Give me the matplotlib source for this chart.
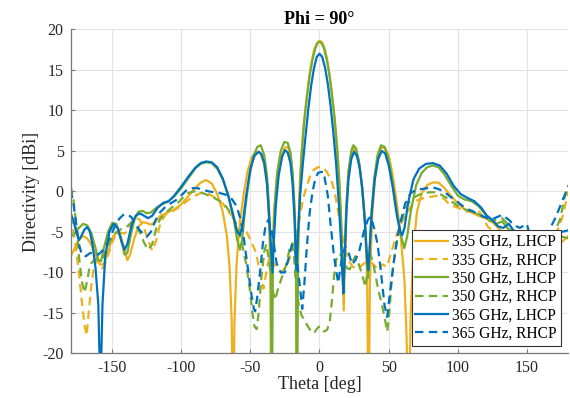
import matplotlib
matplotlib.use("Agg")
import matplotlib.pyplot as plt

# ---------------- data ----------------
theta_335_lhcp = [-180, -177, -174, -171, -168, -165, -162, -159, -156, -153, -150, -147, -144, -141, -139, -137,
                  -134, -131, -128, -125, -122, -119, -115, -110, -105, -100, -95, -90, -86, -82, -78, -74, -70,
                  -67, -65, -63.5, -62.5, -61.5, -60, -58, -55, -52, -49, -46, -43, -40, -38, -36.5, -35.5, -35,
                  -34.3, -33, -31, -28, -25, -23, -21, -19.5, -18, -17, -16.5, -16, -15, -14, -12, -10, -8, -6,
                  -4, -2, 0, 2, 4, 6, 8, 10, 12, 14, 15.5, 16.5, 17.5, 18.5, 19.5, 21, 23, 25, 27, 29, 31, 33,
                  34.5, 35.5, 36.5, 38, 40, 42, 44.5, 47, 50, 53, 56, 59, 61.5, 63, 64.5, 66, 68, 70.5, 74, 78,
                  82, 86, 90, 95, 100, 105, 110, 115, 120, 125, 130, 135, 140, 145, 150, 155, 160, 165, 170, 175,
                  180]
dbi_335_lhcp = [-8.0, -7.0, -6.0, -5.5, -5.8, -6.6, -7.8, -9.0, -9.0, -7.5, -5.8, -5.0, -5.4, -7.2, -8.5, -7.8,
                -5.8, -4.4, -3.8, -3.9, -4.1, -3.8, -3.0, -2.6, -2.2, -1.6, -0.6, 0.4, 1.1, 1.4, 1.0, -0.3, -2.5,
                -5.5, -9.5, -16, -30, -16, -9, -4.5, -0.5, 2.5, 4.2, 4.9, 4.8, 3.4, 1.0, -3.5, -10, -30,
                -10, -3, 1.5, 4.2, 5.4, 5.5, 4.5, 2.0, -3, -10, -30, -10, -3, 2.0, 7.0, 10.5, 13.5, 15.8,
                17.4, 18.3, 18.6, 18.4, 17.5, 15.9, 13.5, 10.4, 6.5, 1.5, -3, -8, -14.7, -8, -2, 2.5, 4.6, 5.3,
                4.8, 3.2, 0.5, -4, -11, -30, -11, -3.5, 1.5, 4.0, 5.3, 5.5, 4.5, 2.0, -1.5, -6, -11, -18, -30,
                -15, -7, -2.5, -0.2, 0.8, 1.1, 1.1, 0.5, -0.5, -1.5, -2.2, -2.6, -3.0, -3.3, -3.8, -4.6, -5.5,
                -6.0, -6.5, -6.8, -6.3, -5.8, -6.2, -6.5, -6.3, -5.5]

theta_335_rhcp = [-180, -177, -174, -172, -170, -168.5, -167, -165, -163, -160, -157, -154, -151, -148, -145, -142,
                  -139, -136, -133, -130, -127, -124, -121, -118, -115, -111, -106, -101, -96, -91, -86, -82, -78,
                  -74, -70, -66, -62, -58, -54, -50, -46, -43, -40.5, -38, -36, -34, -31, -28, -25, -22, -19, -17,
                  -15, -12, -10, -7, -4, -1, 2, 5, 8, 10.5, 12, 14, 16, 18.5, 21, 24, 28, 31.5, 35.5, 39, 42.8,
                  45.5, 48.8, 52, 56, 59.5, 63, 66.5, 70.5, 76, 82.6, 86, 90, 94.7, 100, 106.7, 115, 122, 130,
                  140, 150, 160, 168, 173, 176, 178, 180]
dbi_335_rhcp = [-3.0, -6.0, -10.0, -13.5, -16.5, -17.8, -15.0, -11.5, -9.0, -8.5, -9.5, -8.5, -6.8, -5.5, -5.0, -5.2,
                -5.0, -3.8, -3.2, -3.5, -4.5, -6.0, -7.3, -6.0, -3.8, -2.8, -2.4, -1.9, -1.2, -0.6, -0.2, -0.2,
                -0.5, -1.0, -1.5, -2.5, -3.2, -3.6, -4.5, -6.0, -7.5, -10.0, -12.0, -9.5, -8.0, -8.5, -9.5,
                -10.0, -9.5, -8.5, -6.5, -5.5, -4.0, -1.0, 0.2, 1.8, 2.7, 3.0, 3.0, 2.5, 1.6, 0.3, -1.0, -3.0,
                -5.0, -7.2, -8.5, -9.3, -9.5, -9.0, -8.5, -9.0, -9.7, -9.0, -9.3, -7.5, -5.2, -3.8, -2.7, -1.8,
                -1.1, -0.8, -0.6, -0.5, -0.9, -1.7, -2.0, -2.5, -2.3, -4.4, -5.5, -6.5, -7.0, -7.0, -6.0, -4.5,
                -3.0, -1.5, 0.0]

theta_350_lhcp = [-180, -177, -174, -171, -168, -165, -162, -160, -158, -156, -153, -150, -147, -144, -141, -139,
                  -137, -134, -131, -128, -125, -122, -118, -114, -110, -105, -100, -95, -90, -86, -82, -78, -74,
                  -70, -66, -62, -59.5, -57.5, -56, -54, -51, -48, -45, -42.5, -40, -38, -36.5, -35.3, -34.5,
                  -33.7, -32.5, -30.5, -28, -25.5, -23, -21, -19.5, -18, -17, -16.3, -15.5, -14.5, -13, -11, -9,
                  -7, -5, -3, -1, 0, 1, 3, 5, 7, 9, 11, 13, 14.5, 15.5, 16.5, 17.3, 18.2, 19.3, 21, 23, 24.5,
                  26.5, 28.5, 30.5, 32.5, 34, 35.2, 36.3, 37.5, 39.5, 42, 44.5, 47, 50, 53, 56, 59, 61.4, 63.5,
                  66, 70, 74, 78, 82, 86, 90, 95, 100, 105, 110, 115, 120, 124, 128, 132, 136, 140, 145, 150, 153,
                  157, 162, 168, 172, 176, 180]
dbi_350_lhcp = [-5.6, -5.2, -4.5, -4.0, -4.2, -5.2, -7.0, -8.5, -8.6, -7.0, -5.0, -3.9, -4.0, -5.6, -7.8, -7.6,
                -5.8, -3.5, -2.5, -2.4, -2.7, -2.6, -2.0, -1.6, -1.3, -0.6, 0.4, 1.6, 2.8, 3.4, 3.6, 3.5, 2.8,
                1.5, -0.5, -3.5, -6.0, -7.2, -6.0, -2.5, 1.5, 4.3, 5.5, 5.7, 4.5, 2.0, -2.0, -8.0, -30,
                -8.0, -2.0, 2.5, 5.0, 6.1, 6.0, 4.8, 2.5, -2.0, -8.0, -30, -8.0, -1.5, 4.5, 8.8, 11.8,
                14.4, 16.3, 17.7, 18.4, 18.5, 18.4, 17.8, 16.5, 14.6, 12.0, 9.0, 5.0, 1.0, -3.0, -8.0, -12.0,
                -8.0, -2.0, 2.5, 5.0, 5.7, 5.3, 3.8, 1.0, -3.0, -7.5, -10.7, -7.5, -3.0, 1.5, 4.5, 5.7, 5.5,
                4.0, 1.0, -2.5, -5.5, -7.0, -5.5, -2.5, 0.8, 2.3, 3.0, 3.2, 3.0, 2.2, 0.8, -0.5, -1.0, -1.2,
                -1.8, -2.8, -3.5, -4.0, -3.7, -4.5, -5.3, -5.6, -5.4, -5.0, -5.4, -5.8, -5.5, -5.4, -5.6, -5.8]

theta_350_rhcp = [-180, -178, -176, -174, -172, -170, -168, -166, -163, -160, -157, -154, -151, -148, -145, -142,
                  -139, -136, -133, -130, -127, -124, -121, -118, -115, -111, -107, -103, -99, -95, -91, -87, -83,
                  -79, -75, -71, -67, -63, -59, -56, -53, -50.5, -48.5, -47, -45.5, -44, -42, -40, -38.5, -37,
                  -35.5, -33.5, -32, -30, -27, -24, -21.5, -19.8, -18.5, -17, -15, -13, -11, -9, -6, -4, -2,
                  -0.5, 1, 3, 5.5, 7.5, 9, 10.5, 12, 14, 16, 18, 20, 22, 24, 26, 28, 30, 32, 33.3, 34.5, 35.7,
                  37, 39, 41, 43, 45, 47, 49, 50.5, 52, 53.5, 55, 57, 59.5, 62, 65, 68, 72, 76, 80, 84, 88, 92,
                  96, 100, 105, 110, 115, 120, 124, 128, 132, 136, 140, 144, 150, 158, 165, 170, 174, 177, 180]
dbi_350_rhcp = [0.7, -1.0, -4.0, -8.0, -11.0, -12.5, -11.0, -9.0, -8.5, -8.3, -8.3, -7.0, -6.0, -5.2, -4.8, -4.5,
                -4.3, -3.8, -4.2, -5.0, -6.3, -7.2, -6.5, -4.5, -3.3, -2.6, -2.0, -1.5, -0.8, -0.2, 0.0, -0.1,
                -0.3, -0.6, -0.9, -1.3, -2.0, -3.0, -4.5, -6.5, -9.0, -12.0, -15.0, -16.7, -17.0, -15.0, -10.5,
                -7.5, -6.5, -8.0, -10.0, -12.5, -13.4, -12.0, -10.5, -9.0, -7.0, -6.4, -8.0, -11.5, -14.0,
                -15.3, -15.8, -16.5, -17.3, -17.5, -17.0, -16.7, -16.8, -17.3, -17.1, -16.0, -13.5, -10.5, -8.5,
                -7.7, -7.9, -8.6, -9.5, -9.6, -8.6, -8.0, -8.8, -9.8, -11.0, -11.8, -10.0, -8.0, -7.8, -9.0,
                -10.8, -12.5, -13.8, -15.5, -17.3, -15.0, -11.5, -9.0, -7.2, -5.2, -3.5, -2.3, -1.3, -0.8, -0.4,
                -0.2, -0.1, -0.1, -0.4, -0.8, -1.3, -1.8, -2.2, -2.5, -2.8, -3.3, -3.7, -3.5, -3.3, -4.0, -4.8,
                -5.0, -5.5, -6.0, -5.5, -5.0, -3.5, -1.0, 0.8]

theta_365_lhcp = [-180, -178, -176, -174, -172, -170, -168, -166, -164, -162, -160, -158.5, -157, -155, -152, -149,
                  -146, -143, -141, -139, -136, -133, -130, -127, -124, -121, -117, -113, -109, -105, -100, -95,
                  -90, -86, -82, -78, -74, -70, -66, -62, -59.5, -57.5, -55.5, -53, -50, -47, -44, -42, -40, -38,
                  -36.5, -35, -34, -33, -31.5, -29.5, -27, -25, -23, -21, -19.5, -18, -16.8, -15.5, -14, -12,
                  -10, -8, -6, -4, -2, 0, 2, 4, 6, 8, 10, 12, 14, 15.5, 16.5, 17.3, 18.3, 19.5, 21, 23, 25, 27,
                  29, 31, 33, 34.5, 35.3, 36.3, 37.8, 40, 42.5, 45, 47.5, 50, 53, 56, 58.5, 59.8, 61.5, 64, 68,
                  72, 77, 82, 87, 92, 97, 102, 107, 112, 117, 121, 125, 129, 133, 137, 141, 145, 150, 155, 160,
                  165, 170, 175, 180]
dbi_365_lhcp = [-2.7, -3.6, -5.0, -6.0, -5.4, -4.7, -4.4, -5.0, -6.8, -9.5, -14.0, -25.0, -14.0, -8.0, -5.0, -4.0,
                -4.5, -6.3, -7.2, -6.5, -4.2, -3.0, -2.7, -3.0, -3.3, -3.0, -2.0, -1.4, -1.2, -0.5, 0.6, 1.8,
                2.9, 3.5, 3.7, 3.6, 3.0, 1.6, -0.5, -3.2, -5.0, -5.4, -4.0, -0.5, 2.8, 4.4, 4.9, 4.6, 3.5, 1.0,
                -3.0, -7.0, -10.0, -6.0, -1.5, 2.0, 4.3, 5.1, 4.8, 3.5, 1.0, -3.5, -9.7, -5.0, -0.5, 3.5,
                7.0, 10.3, 13.1, 15.2, 16.6, 17.0, 16.6, 15.3, 13.3, 10.6, 7.3, 3.5, -1.5, -6.0, -10.0, -12.6,
                -8.0, -2.5, 1.5, 4.0, 4.9, 4.4, 3.0, 0.3, -4.0, -8.5, -9.7, -7.0, -2.5, 1.5, 4.0, 5.0, 4.7,
                3.3, 0.5, -3.0, -5.0, -5.4, -4.5, -1.5, 1.5, 2.8, 3.4, 3.5, 3.2, 2.2, 0.7, -0.3, -0.8, -1.2,
                -2.0, -3.0, -3.5, -4.3, -4.5, -4.0, -5.0, -5.5, -6.0, -5.0, -5.5, -6.0, -5.5, -5.0, -4.8]

theta_365_rhcp = [-180, -178, -176, -174, -172, -169, -166, -163, -160, -157, -154, -151, -148, -145, -142, -139,
                  -136, -133, -130, -127, -125, -122, -119, -116, -112, -108, -104, -100, -96, -92, -88, -84, -80,
                  -76, -72, -68, -64, -60, -57, -55, -53, -51, -49, -47.5, -46.5, -45, -43, -41, -39, -37, -35,
                  -33, -31, -28, -25, -22, -20, -18, -16, -14, -12.5, -11, -9, -7, -5, -3, -1, 1, 3, 6, 8,
                  10.5, 13.5, 16, 18.5, 21, 23.5, 26, 29, 32, 35, 37, 39.5, 42, 44.5, 47, 49, 51, 53.5, 56, 59,
                  62, 66, 70, 74, 78, 82, 86, 90, 95, 100, 105, 110, 115, 120, 124, 128, 132, 137, 141, 145, 150,
                  153, 155.5, 157.5, 159.5, 161.5, 164, 167, 170, 173, 176, 180]
dbi_365_rhcp = [0.2, -1.5, -4.0, -6.5, -7.8, -8.0, -7.6, -7.6, -7.8, -7.3, -6.5, -5.5, -4.3, -3.4, -2.9, -2.8,
                -3.2, -4.0, -4.8, -5.3, -5.6, -5.0, -3.7, -2.7, -2.0, -1.5, -1.1, -0.5, 0.2, 0.4, 0.4, 0.2, 0.0,
                -0.1, -0.2, -0.4, -0.8, -1.8, -3.5, -5.5, -8.0, -10.5, -13.0, -14.5, -14.8, -13.0, -10.0, -6.5,
                -4.2, -3.5, -4.5, -6.5, -8.9, -10.0, -10.0, -8.0, -6.6, -7.0, -9.0, -12.0, -14.5, -11.5, -6.5,
                -2.5, 0.0, 1.6, 2.3, 2.4, 2.4, -0.5, -4.0, -8.0, -11.3, -8.5, -6.8, -7.5, -9.0, -8.5, -7.2,
                -5.0, -3.5, -3.1, -4.5, -6.5, -10.0, -14.0, -15.5, -12.5, -9.0, -6.0, -3.5, -1.5, -0.2, 0.2,
                0.3, 0.4, 0.5, 0.3, 0.0, -0.7, -1.3, -2.0, -2.4, -2.8, -3.2, -3.5, -3.2, -2.9, -3.5, -4.2, -4.5,
                -4.0, -6.0, -12.0, -18.5, -15.0, -9.0, -6.0, -4.5, -3.5, -2.3, -1.0, 0.6]

labels = ["335 GHz, LHCP", "335 GHz, RHCP", "350 GHz, LHCP", "350 GHz, RHCP", "365 GHz, LHCP", "365 GHz, RHCP"]
x_ticks = [-150, -100, -50, 0, 50, 100, 150]
y_ticks = [-20, -15, -10, -5, 0, 5, 10, 15, 20]

# ---------------- style ----------------
plt.rcParams['font.family'] = ['Liberation Serif', 'DejaVu Serif']
plt.rcParams['axes.unicode_minus'] = False
C_OR = '#EDB120'
C_GR = '#77AC30'
C_BL = '#0072BD'
DASH = (0, (3.8, 2.4))
LW = 1.6

fig = plt.figure(figsize=(5.70, 3.98), dpi=100)
ax = fig.add_axes([0.124, 0.112, 0.873, 0.814])

series = [
    (theta_335_lhcp, dbi_335_lhcp, C_OR, '-'),
    (theta_335_rhcp, dbi_335_rhcp, C_OR, DASH),
    (theta_350_lhcp, dbi_350_lhcp, C_GR, '-'),
    (theta_350_rhcp, dbi_350_rhcp, C_GR, DASH),
    (theta_365_lhcp, dbi_365_lhcp, C_BL, '-'),
    (theta_365_rhcp, dbi_365_rhcp, C_BL, DASH),
]
for (t, d, c, ls), lab in zip(series, labels):
    ax.plot(t, d, color=c, linestyle=ls, linewidth=LW, label=lab)

ax.set_xlim(-180, 180)
ax.set_ylim(-20, 20)
ax.set_xticks(x_ticks)
ax.set_yticks(y_ticks)
ax.grid(True, color='#e3e3e3', linewidth=0.8)
ax.set_axisbelow(True)
for s in ['top', 'right']:
    ax.spines[s].set_visible(False)
for s in ['left', 'bottom']:
    ax.spines[s].set_color('#777777')
    ax.spines[s].set_linewidth(0.9)
ax.tick_params(direction='in', length=3, width=0.8, color='#777777', labelsize=11.5,
               labelcolor='#262626', pad=5)

ax.set_xlabel('Theta [deg]', fontsize=13, color='#262626', labelpad=0)
ax.set_ylabel('Directivity [dBi]', fontsize=13, color='#262626', labelpad=2)
ax.set_title('Phi = 90°', fontsize=13, fontweight='bold', color='#000000', pad=4)

leg = ax.legend(loc='lower right', fontsize=11.2, frameon=True, fancybox=False, framealpha=1,
                edgecolor='#333333', labelspacing=0.15, handlelength=2.1, handletextpad=0.25,
                borderpad=0.25, borderaxespad=0.5)
leg.get_frame().set_linewidth(0.8)

fig.savefig('out.png', dpi=100)
